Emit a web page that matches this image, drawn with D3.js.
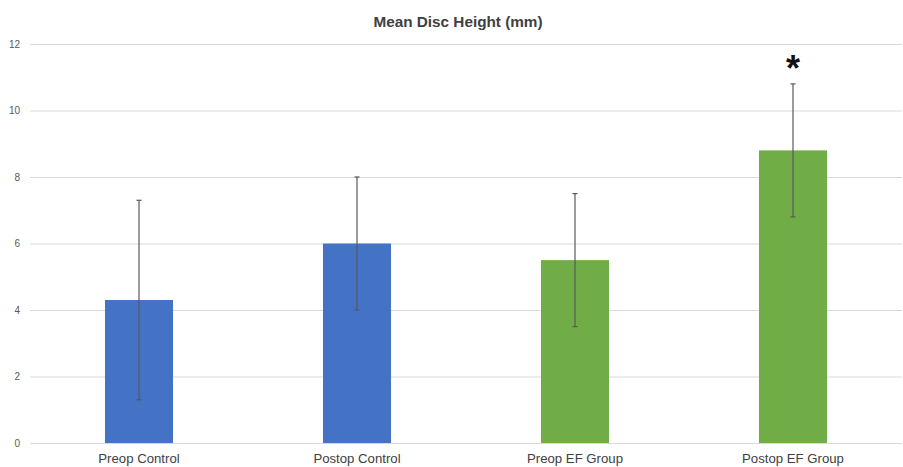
<!DOCTYPE html>
<html><head><meta charset="utf-8">
<script src="https://cdn.jsdelivr.net/npm/d3@7"></script>
<style>html,body{margin:0;padding:0;background:#fff;}</style>
</head><body>
<svg id="chart" width="903" height="467"></svg>
<script>
const categories = ["Preop Control", "Postop Control", "Preop EF Group", "Postop EF Group"];
const means = [4.3, 6.0, 5.5, 8.8];
const errLow = [1.3, 4.0, 3.5, 6.8];
const errHigh = [7.3, 8.0, 7.5, 10.8];
const barColors = ["#4472C4", "#4472C4", "#70AD47", "#70AD47"];
const significant = [false, false, false, true];
const yTicks = [0, 2, 4, 6, 8, 10, 12];

const svg = d3.select("#chart");
const plotLeft = 30, plotRight = 902, plotTop = 44, plotBottom = 443;

const x = d3.scaleBand().domain(categories).range([plotLeft, plotRight]).padding(0);
const y = d3.scaleLinear().domain([0, 12]).range([plotBottom, plotTop]);
const barW = x.bandwidth() * 0.312;

svg.append("text").attr("x", 458).attr("y", 27).attr("text-anchor", "middle")
  .attr("font-family", "Liberation Sans, Arial, sans-serif").attr("font-weight", "bold")
  .attr("font-size", 15.3).attr("fill", "#404040").text("Mean Disc Height (mm)");

const yAxis = svg.append("g").attr("transform", `translate(${plotLeft},0)`)
  .call(d3.axisLeft(y).tickValues(yTicks).tickSize(-(plotRight - plotLeft)).tickFormat(d3.format("d")));
yAxis.select(".domain").remove();
yAxis.selectAll(".tick line").attr("stroke", "#d9d9d9").attr("stroke-width", 1);
yAxis.selectAll(".tick text").attr("x", -10).attr("fill", "#595959")
  .attr("font-family", "Liberation Sans, Arial, sans-serif").attr("font-size", 10);

svg.append("g").selectAll("rect").data(categories).join("rect")
  .attr("x", d => x(d) + x.bandwidth() / 2 - barW / 2)
  .attr("width", barW)
  .attr("y", (d, i) => y(means[i]))
  .attr("height", (d, i) => y(0) - y(means[i]))
  .attr("fill", (d, i) => barColors[i]);

const eb = svg.append("g").attr("stroke", "#595959").attr("stroke-width", 1.2);
categories.forEach((c, i) => {
  const cx = x(c) + x.bandwidth() / 2;
  eb.append("line").attr("x1", cx).attr("x2", cx).attr("y1", y(errLow[i])).attr("y2", y(errHigh[i]));
  [errLow[i], errHigh[i]].forEach(v => {
    eb.append("line").attr("x1", cx - 2.5).attr("x2", cx + 2.5).attr("y1", y(v)).attr("y2", y(v));
  });
  if (significant[i]) {
    svg.append("text").attr("x", cx).attr("y", y(errHigh[i]) - 3).attr("text-anchor", "middle")
      .attr("font-family", "Liberation Sans, Arial, sans-serif").attr("font-weight", "bold")
      .attr("font-size", 36).attr("fill", "#111").text("*");
  }
});

svg.append("g").selectAll("text").data(categories).join("text")
  .attr("x", d => x(d) + x.bandwidth() / 2).attr("y", 463).attr("text-anchor", "middle")
  .attr("font-family", "Liberation Sans, Arial, sans-serif").attr("font-size", 13.2)
  .attr("fill", "#404040").text(d => d);
</script>
</body></html>
